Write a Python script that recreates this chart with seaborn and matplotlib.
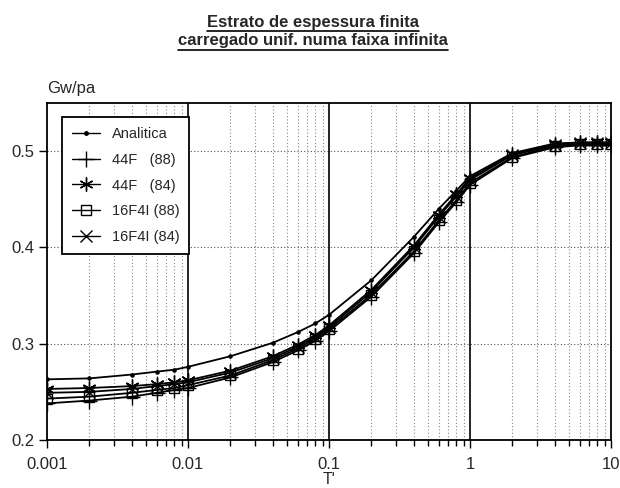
import matplotlib
matplotlib.use("Agg")
import matplotlib.pyplot as plt
import seaborn as sns
import pandas as pd
from matplotlib.lines import Line2D
from matplotlib.ticker import LogLocator, FixedLocator, NullFormatter

T = [0.001, 0.002, 0.004, 0.006, 0.008, 0.01, 0.02, 0.04, 0.06, 0.08, 0.1,
     0.2, 0.4, 0.6, 0.8, 1, 2, 4, 6, 8, 10]
analitica = [0.263, 0.264, 0.268, 0.271, 0.273, 0.276, 0.287, 0.301, 0.312, 0.321, 0.330,
             0.366, 0.411, 0.440, 0.459, 0.474, 0.498, 0.508, 0.509, 0.509, 0.509]
f44_88 = [0.238, 0.241, 0.245, 0.249, 0.252, 0.254, 0.265, 0.281, 0.293, 0.303, 0.313,
          0.349, 0.394, 0.426, 0.447, 0.465, 0.493, 0.504, 0.506, 0.506, 0.506]
f44_84 = [0.253, 0.254, 0.256, 0.258, 0.260, 0.262, 0.272, 0.287, 0.299, 0.309, 0.319,
          0.356, 0.402, 0.434, 0.455, 0.472, 0.497, 0.507, 0.509, 0.509, 0.509]
f16_88 = [0.243, 0.245, 0.249, 0.252, 0.254, 0.257, 0.267, 0.283, 0.295, 0.305, 0.315,
          0.351, 0.396, 0.428, 0.449, 0.467, 0.494, 0.505, 0.507, 0.507, 0.507]
f16_84 = [0.249, 0.250, 0.253, 0.256, 0.258, 0.260, 0.270, 0.285, 0.297, 0.307, 0.317,
          0.354, 0.400, 0.432, 0.453, 0.470, 0.496, 0.506, 0.508, 0.508, 0.508]
labels = ["Analitica", "44F   (88)", "44F   (84)", "16F4I (88)", "16F4I (84)"]
x_ticks = [0.001, 0.01, 0.1, 1, 10]
x_tick_labels = ["0.001", "0.01", "0.1", "1", "10"]
y_ticks = [0.2, 0.3, 0.4, 0.5]
y_tick_labels = ["0.2", "0.3", "0.4", "0.5"]

sns.set_theme(style="white")
plt.rcParams['font.family'] = ['Liberation Sans', 'DejaVu Sans']

fig = plt.figure(figsize=(6.2, 4.88), dpi=100)
ax = fig.add_axes([47/620, 48/488, 564/620, 337/488])

series = [analitica, f44_88, f44_84, f16_88, f16_84]
styles = [
    dict(marker='o', markersize=2.5, markerfacecolor='black'),
    dict(marker='+', markersize=11, markeredgewidth=1.0),
    dict(marker=(6, 2, 0), markersize=10, markeredgewidth=1.0),
    dict(marker='s', markersize=7, markerfacecolor='none', markeredgewidth=1.0),
    dict(marker='x', markersize=8, markeredgewidth=1.0),
]
handles = []
for vals, lab, st in zip(series, labels, styles):
    df = pd.DataFrame({"T": T, "G": vals})
    sns.lineplot(data=df, x="T", y="G", ax=ax, color='black', linewidth=1.3,
                 markeredgecolor='black', **st)
    handles.append(Line2D([], [], color='black', linewidth=1.0,
                          markeredgecolor='black', **st))

ax.set_xscale('log')
ax.set_xlim(0.001, 10)
ax.set_ylim(0.2, 0.55)

ax.xaxis.set_major_locator(FixedLocator(x_ticks))
ax.set_xticklabels(x_tick_labels)
ax.xaxis.set_minor_locator(LogLocator(base=10, subs=range(2, 10)))
ax.xaxis.set_minor_formatter(NullFormatter())
ax.set_yticks(y_ticks)
ax.set_yticklabels(y_tick_labels)

ax.grid(False)
for xv in x_ticks[1:-1]:
    ax.axvline(xv, color='black', linewidth=1.2, zorder=1)
ax.grid(True, which='minor', axis='x', color='#888888', linestyle=(0, (1, 2)), linewidth=0.8)
ax.grid(True, which='major', axis='y', color='#555555', linestyle=(0, (1, 2)), linewidth=0.8)

ax.tick_params(axis='x', which='major', direction='out', length=6, width=1, color='black',
               labelsize=12, pad=6, bottom=True)
ax.tick_params(axis='x', which='minor', direction='out', length=4, width=1, color='black', bottom=True)
ax.tick_params(axis='y', which='major', direction='out', length=6, width=1, color='black',
               labelsize=12, pad=3, left=True)
for s in ax.spines.values():
    s.set_color('black')
    s.set_linewidth(1.3)

ax.set_xlabel("T'", fontsize=11.5, labelpad=0)
ax.set_ylabel("")
ax.text(0.0, 1.02, "Gw/pa", transform=ax.transAxes, fontsize=12, ha='left', va='bottom')

leg = ax.legend(handles=handles, labels=labels, loc='upper left',
                bbox_to_anchor=(15/564, 1 - 14/337), fontsize=10.5, frameon=True,
                fancybox=False, edgecolor='black', handlelength=1.9, labelspacing=0.8,
                borderpad=0.7, handletextpad=0.8, borderaxespad=0)
leg.get_frame().set_linewidth(1.3)
leg.get_frame().set_facecolor('white')
leg.get_frame().set_alpha(1)

t1 = fig.text(0.505, 1 - 22/488, "Estrato de espessura finita", ha='center', va='center',
              fontsize=12, fontweight='bold')
t2 = fig.text(0.505, 1 - 41/488, "carregado unif. numa faixa infinita", ha='center', va='center',
              fontsize=12, fontweight='bold')
fig.canvas.draw()
r = fig.canvas.get_renderer()
for t in (t1, t2):
    bb = t.get_window_extent(r)
    yline = bb.y0 - 1
    fig.add_artist(Line2D([bb.x0 / 620, bb.x1 / 620], [yline / 488, yline / 488],
                          transform=fig.transFigure, color='black', linewidth=1.2))

fig.savefig("out.png", dpi=100)
